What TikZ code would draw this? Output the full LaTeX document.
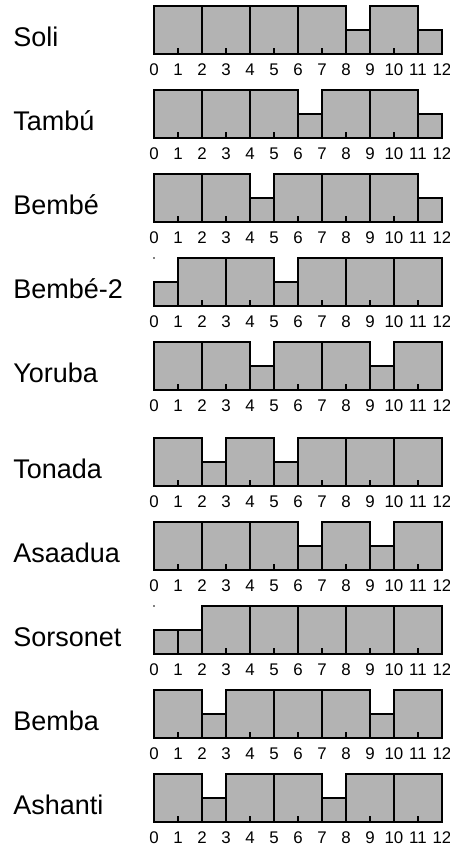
\documentclass[tikz,border=0pt]{standalone}
\usepackage{fontspec}
\setmainfont{Liberation Sans}

\definecolor{barfill}{RGB}{179,179,179}

\tikzset{
  bar/.style={fill=barfill,draw=black,line width=0.9pt},
  pulse/.style={line width=0.9pt},
  rowname/.style={anchor=base west,inner sep=0pt,font=\fontsize{16}{19}\selectfont},
  beat/.style={inner sep=0pt,font=\fontsize{10}{12}\selectfont},
}

\begin{document}
\begin{tikzpicture}[x=0.5cm,y=0.5cm]
	\useasboundingbox (-6.4167,-33) rectangle (12.3333,2.25);

	% one row per rhythm: name, baseline, list of start/end of each note
	\foreach \key/\lbl/\y/\bars in {
		soli/Soli/0/{0/2,2/4,4/6,6/8,8/9,9/11,11/12},
		tambu/Tambú/-3.5/{0/2,2/4,4/6,6/7,7/9,9/11,11/12},
		bembe/Bembé/-7/{0/2,2/4,4/5,5/7,7/9,9/11,11/12},
		bembetwo/Bembé-2/-10.5/{0/1,1/3,3/5,5/6,6/8,8/10,10/12},
		yoruba/Yoruba/-14/{0/2,2/4,4/5,5/7,7/9,9/10,10/12},
		tonada/Tonada/-18/{0/2,2/3,3/5,5/6,6/8,8/10,10/12},
		asaadua/Asaadua/-21.5/{0/2,2/4,4/6,6/7,7/9,9/10,10/12},
		sorsonet/Sorsonet/-25/{0/1,1/2,2/4,4/6,6/8,8/10,10/12},
		bemba/Bemba/-28.5/{0/2,2/3,3/5,5/7,7/9,9/10,10/12},
		ashanti/Ashanti/-32/{0/2,2/3,3/5,5/7,7/8,8/10,10/12}}
	{
		\node[rowname] (\key) at (-5.875,\y+0.31) {\lbl};
		\foreach \a/\b in \bars {
			\draw[bar] (\a,\y) rectangle (\b,\y+\b-\a);
			\pgfmathtruncatemacro\len{\b-\a}
			\ifnum\len=2
				\draw[pulse] (\a+1,\y) -- (\a+1,\y+0.25);
			\fi
		}
		\foreach \i in {0,...,12}
			\node[beat] (\key-\i) at (\i,\y-0.67) {\i};
	}

	% stray marks above the short first notes
	\fill (0,-8.5) circle (0.035);
	\fill (0,-23) circle (0.035);
\end{tikzpicture}
\end{document}
